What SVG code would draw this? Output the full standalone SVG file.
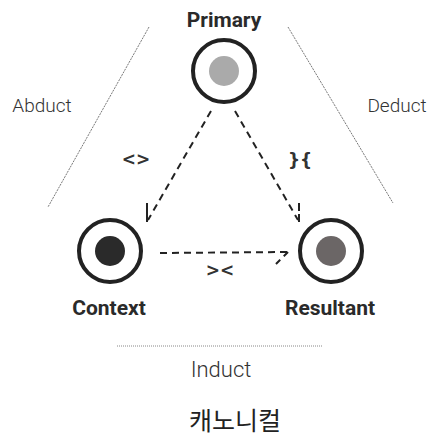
<svg xmlns="http://www.w3.org/2000/svg" width="429" height="439" viewBox="0 0 429 439">
<style>
.ring{fill:none;stroke:#222;stroke-width:4}
.title{font-family:Roboto,"Liberation Sans",sans-serif;font-weight:700;font-size:21px;fill:#2a2a2a;text-anchor:middle}
.side{font-family:Roboto,"Liberation Sans",sans-serif;font-weight:300;font-size:19px;fill:#333;text-anchor:middle}
.sym{font-family:"DejaVu Sans",sans-serif;font-weight:700;font-size:17px;fill:#333;text-anchor:middle}
.dash{fill:none;stroke:#222;stroke-width:2;stroke-dasharray:7 5}
.thin{fill:none;stroke:#555;stroke-width:0.8;stroke-dasharray:2 1}
</style>
<rect width="429" height="439" fill="#fff"/>
<g id="primary">
<text class="title" x="224" y="27">Primary</text>
<circle class="ring" cx="224" cy="71" r="31"/>
<circle cx="224" cy="71" r="15" fill="#aaa"/>
</g>
<g id="context">
<circle class="ring" cx="110" cy="251" r="31"/>
<circle cx="110" cy="251" r="15" fill="#2a2a2a"/>
<text class="title" x="109" y="315">Context</text>
</g>
<g id="resultant">
<circle class="ring" cx="331" cy="251" r="31"/>
<circle cx="331" cy="251" r="15" fill="#6b6666"/>
<text class="title" x="330" y="315">Resultant</text>
</g>
<g id="connectors">
<path class="dash" d="M211 111 L148 220"/>
<path class="dash" d="M147 203 L147 222" style="stroke-dasharray:none"/>
<path class="dash" d="M235 111 L298 220"/>
<path class="dash" d="M299 203 L299 222" style="stroke-dasharray:8 3"/>
<path class="dash" d="M160 253 L288 252"/>
<path class="dash" d="M288 252 L274 266" style="stroke-dasharray:6 5"/>
<text class="sym" x="136" y="165">&lt;&gt;</text>
<text class="sym" x="300" y="166">}{</text>
<text class="sym" x="220" y="276">&gt;&lt;</text>
<path class="thin" d="M149 27 L48 207"/>
<path class="thin" d="M288 27 L393 203"/>
<path d="M117 346 L322 346" fill="none" stroke="#888" stroke-width="1" stroke-dasharray="1 1"/>
</g>
<g id="labels">
<text class="side" x="42" y="112">Abduct</text>
<text class="side" x="397" y="112">Deduct</text>
<text class="side" x="221" y="377" style="font-size:22px">Induct</text>
<text x="235" y="430" style="font-family:'Noto Sans CJK KR',sans-serif;font-size:25px;fill:#222;text-anchor:middle">캐노니컬</text>
</g>
</svg>
